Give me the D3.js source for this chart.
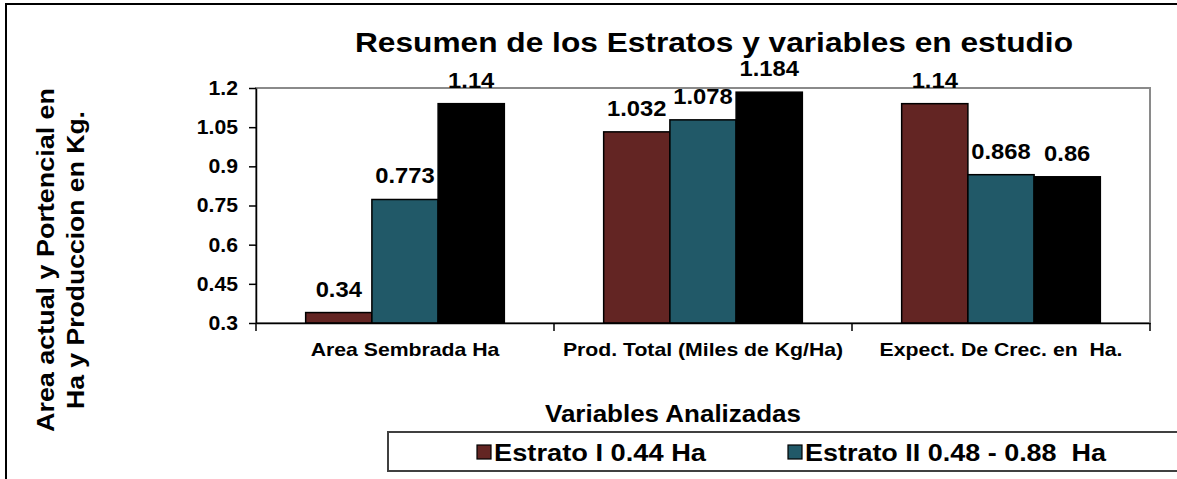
<!DOCTYPE html>
<html>
<head>
<meta charset="utf-8">
<script src="https://cdn.jsdelivr.net/npm/d3@7"></script>
<style>
  html, body { margin: 0; padding: 0; background: #fff; }
  svg { display: block; }
  text { font-family: "Liberation Sans", Arial, sans-serif; white-space: pre; }
</style>
</head>
<body>
<svg id="chart" width="1177" height="479"></svg>
<script>
// ---- data ----
const categories = ["Area Sembrada Ha", "Prod. Total (Miles de Kg/Ha)", "Expect. De Crec. en  Ha."];
const seriesNames = ["Estrato I 0.44 Ha", "Estrato II 0.48 - 0.88  Ha", "Estrato III"];
const estratoI   = [0.34, 1.032, 1.14];
const estratoII  = [0.773, 1.078, 0.868];
const estratoIII = [1.14, 1.184, 0.86];
const yTickValues = [0.3, 0.45, 0.6, 0.75, 0.9, 1.05, 1.2];
const yTickLabels = ["0.3", "0.45", "0.6", "0.75", "0.9", "1.05", "1.2"];
const seriesColors = ["#632523", "#215968", "#000000"];
const legendSeries = [0, 1]; // third entry is cut off at the right edge of the picture

const titleText = "Resumen de los Estratos y variables en estudio";
const xTitle = "Variables Analizadas";
const yTitleLines = ["Area actual y Portencial en", "Ha y Produccion en Kg."];

const seriesValues = [estratoI, estratoII, estratoIII];

// ---- layout ----
const svg = d3.select("#chart");
const plot = { left: 256, top: 88, right: 1150, bottom: 323 };
const FONT = "\"Liberation Sans\", Arial, sans-serif";

// outer frame (extends past the right and bottom edges)
svg.append("rect")
  .attr("x", 6).attr("y", 4)
  .attr("width", 1300).attr("height", 600)
  .attr("fill", "#fff").attr("stroke", "#000").attr("stroke-width", 2);

const x0 = d3.scaleBand().domain(categories).range([plot.left, plot.right]).paddingInner(0).paddingOuter(0);
const x1 = d3.scaleBand().domain(d3.range(seriesNames.length)).range([0, x0.bandwidth()]).paddingInner(0).paddingOuter(0.75);
const y = d3.scaleLinear().domain([0.3, 1.2]).range([plot.bottom, plot.top]);

// plot area border (gray)
svg.append("rect")
  .attr("x", plot.left).attr("y", plot.top)
  .attr("width", plot.right - plot.left).attr("height", plot.bottom - plot.top)
  .attr("fill", "none").attr("stroke", "#8a8a8a").attr("stroke-width", 2);

// bars
const groups = svg.append("g").selectAll("g")
  .data(categories).join("g")
  .attr("transform", d => `translate(${x0(d)},0)`);

const cells = (c, ci) => seriesValues.map((vals, si) => ({ si, v: vals[ci] }));

groups.selectAll("rect")
  .data(cells)
  .join("rect")
  .attr("x", d => x1(d.si))
  .attr("width", x1.bandwidth())
  .attr("y", d => y(d.v))
  .attr("height", d => y(0.3) - y(d.v))
  .attr("fill", d => seriesColors[d.si])
  .attr("stroke", "#000").attr("stroke-width", 1.5);

// value labels (slightly widened like the reference)
groups.selectAll("text")
  .data(cells)
  .join("text")
  .attr("transform", d => `translate(${x1(d.si) + x1.bandwidth() / 2},${y(d.v) - 16}) scale(1.08,1)`)
  .attr("text-anchor", "middle")
  .attr("font-size", 22).attr("font-weight", "bold").attr("fill", "#000")
  .text(d => String(d.v));

// y axis
const yAxis = d3.axisLeft(y).tickValues(yTickValues)
  .tickFormat((d, i) => yTickLabels[i]).tickSize(7).tickPadding(10).tickSizeOuter(0);
const gy = svg.append("g").attr("transform", `translate(${plot.left},0)`).call(yAxis);
gy.select(".domain").attr("stroke", "#000").attr("stroke-width", 1.5);
gy.selectAll(".tick line").attr("stroke", "#000").attr("stroke-width", 1.5);
gy.selectAll(".tick text").attr("font-size", 20).attr("font-weight", "bold").attr("fill", "#000")
  .attr("font-family", FONT)
  .attr("x", -18 / 1.06).attr("transform", "scale(1.06,1)");

// x axis
const xAxis = d3.axisBottom(x0).tickSize(0).tickPadding(20).tickSizeOuter(0);
const gx = svg.append("g").attr("transform", `translate(0,${plot.bottom})`).call(xAxis);
gx.select(".domain").attr("stroke", "#000").attr("stroke-width", 1.5);
gx.selectAll(".tick text").attr("font-size", 18).attr("font-weight", "bold").attr("fill", "#000")
  .attr("font-family", FONT).attr("transform", "scale(1.18,1)");
// category boundary ticks
const boundaries = categories.map(c => x0(c)).concat([x0(categories[categories.length - 1]) + x0.bandwidth()]);
svg.append("g").selectAll("line").data(boundaries).join("line")
  .attr("x1", d => d).attr("x2", d => d)
  .attr("y1", plot.bottom).attr("y2", plot.bottom + 8)
  .attr("stroke", "#000").attr("stroke-width", 1.5);

// title
svg.append("text")
  .attr("x", 714).attr("y", 52)
  .attr("text-anchor", "middle")
  .attr("font-size", 28).attr("font-weight", "bold").attr("fill", "#000")
  .attr("textLength", 718).attr("lengthAdjust", "spacingAndGlyphs")
  .text(titleText);

// y title
const yTitleLen = [344, 298];
const yt = svg.append("g").attr("transform", "translate(60,260) rotate(-90)");
yt.selectAll("text").data(yTitleLines).join("text")
  .attr("x", 0).attr("y", (d, i) => i === 0 ? -6 : 24)
  .attr("text-anchor", "middle")
  .attr("font-size", 23).attr("font-weight", "bold").attr("fill", "#000")
  .attr("textLength", (d, i) => yTitleLen[i]).attr("lengthAdjust", "spacingAndGlyphs")
  .text(d => d);

// x title
svg.append("text")
  .attr("x", 673).attr("y", 422)
  .attr("text-anchor", "middle")
  .attr("font-size", 24).attr("font-weight", "bold").attr("fill", "#000")
  .attr("textLength", 256).attr("lengthAdjust", "spacingAndGlyphs")
  .text(xTitle);

// legend box (extends past the right edge)
svg.append("rect")
  .attr("x", 388).attr("y", 432)
  .attr("width", 900).attr("height", 39)
  .attr("fill", "#fff").attr("stroke", "#404040").attr("stroke-width", 2);

const legendX = [477, 788];
const legendLen = [212, 301];
const lg = svg.append("g").selectAll("g").data(legendSeries).join("g")
  .attr("transform", (d, i) => `translate(${legendX[i]},452)`);
lg.append("rect")
  .attr("x", 0).attr("y", -7).attr("width", 14).attr("height", 14)
  .attr("fill", d => seriesColors[d]).attr("stroke", "#000").attr("stroke-width", 1.2);
lg.append("text")
  .attr("x", 17).attr("y", 9)
  .attr("font-size", 24).attr("font-weight", "bold").attr("fill", "#000")
  .attr("textLength", (d, i) => legendLen[i]).attr("lengthAdjust", "spacingAndGlyphs")
  .text(d => seriesNames[d]);
</script>
</body>
</html>
